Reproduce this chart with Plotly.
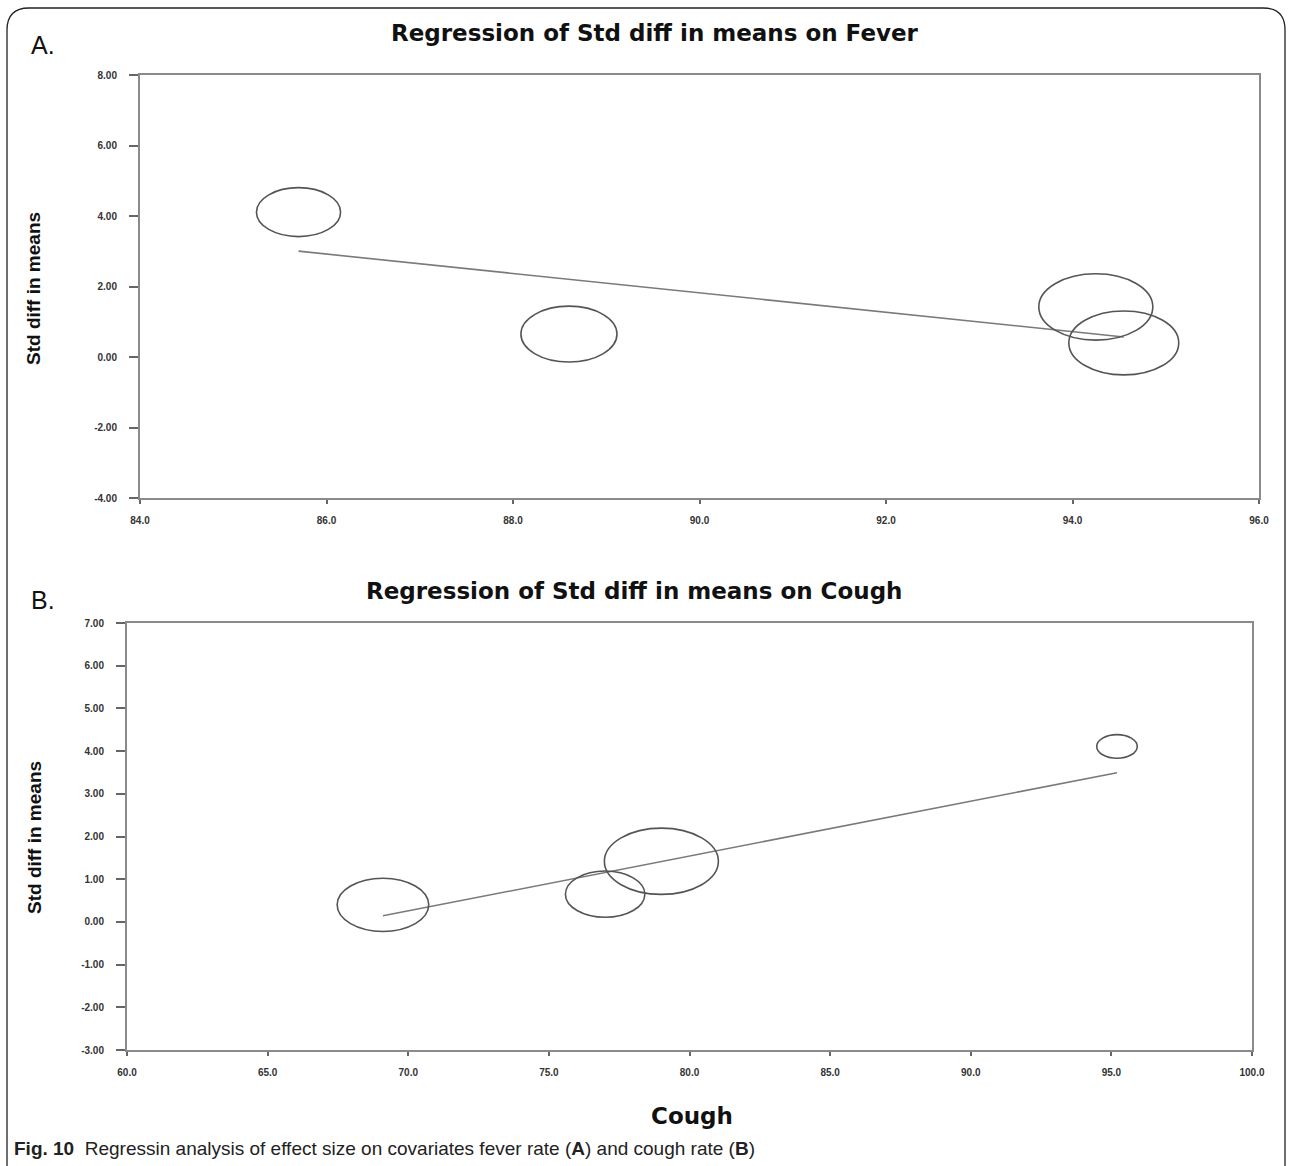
import numpy as np
import plotly.graph_objects as go

# ---------------- data ----------------
effect = [4.11, 0.65, 1.42, 0.40]            # Std diff in means per study
fever = [85.7, 88.6, 94.25, 94.55]           # fever rate (%)
cough = [95.2, 77.0, 79.0, 69.1]             # cough rate (%)
weight_fever = [17.1, 22.3, 31.4, 29.2]      # relative weight (%) in fever model
weight_cough = [5.6, 21.5, 44.3, 28.6]       # relative weight (%) in cough model
fit_fever = {"intercept": 26.57, "slope": -0.275}
fit_cough = {"intercept": -8.73, "slope": 0.1284}

xticks_fever = [84.0, 86.0, 88.0, 90.0, 92.0, 94.0, 96.0]
yticks_fever = [-4.0, -2.0, 0.0, 2.0, 4.0, 6.0, 8.0]
xticks_cough = [60.0, 65.0, 70.0, 75.0, 80.0, 85.0, 90.0, 95.0, 100.0]
yticks_cough = [-3.0, -2.0, -1.0, 0.0, 1.0, 2.0, 3.0, 4.0, 5.0, 6.0, 7.0]

# ---------------- layout geometry ----------------
W, H = 1292, 1166
A_x = (140 / W, 1259 / W)
A_y = (1 - 498 / H, 1 - 75 / H)
B_x = (127 / W, 1252 / W)
B_y = (1 - 1050 / H, 1 - 623 / H)

TICKFONT = dict(family="Liberation Sans, Arial", size=10, color="#333", weight="bold")
AXCOL = "#8a8a8a"
BUBBLE_MAX_PX = 57
ASPECT = 1.72  # horizontal/vertical radius ratio of bubbles in pixels

fig = go.Figure()


def add_panel(xs, ys, weights, fit, xref, yref, xrange, yrange, xdom, ydom):
    # regression line
    xl = np.array([min(xs), max(xs)])
    fig.add_trace(go.Scatter(
        x=xl, y=fit["intercept"] + fit["slope"] * xl, mode="lines",
        line=dict(color="#7a7a7a", width=1.6), xaxis=xref, yaxis=yref,
        showlegend=False, hoverinfo="skip"))
    # invisible points for hover
    fig.add_trace(go.Scatter(x=xs, y=ys, mode="markers", marker=dict(size=1, opacity=0),
                             xaxis=xref, yaxis=yref, showlegend=False))
    # bubbles (ellipses in data coords)
    px_x = (xdom[1] - xdom[0]) * W / (xrange[1] - xrange[0])
    px_y = (ydom[1] - ydom[0]) * H / (yrange[1] - yrange[0])
    wmax = max(weights)
    for x, y, w in zip(xs, ys, weights):
        rx_px = BUBBLE_MAX_PX * np.sqrt(w / wmax)
        ry_px = rx_px / ASPECT
        rx, ry = rx_px / px_x, ry_px / px_y
        fig.add_shape(type="circle", xref=xref, yref=yref,
                      x0=x - rx, x1=x + rx, y0=y - ry, y1=y + ry,
                      line=dict(color="#555", width=1.6), fillcolor="rgba(0,0,0,0)")


add_panel(fever, effect, weight_fever, fit_fever, "x", "y", (84, 96), (-4, 8), A_x, A_y)
add_panel(cough, effect, weight_cough, fit_cough, "x2", "y2", (60, 100), (-3, 7), B_x, B_y)


def xaxis(rng, ticks, dom, anchor):
    return dict(range=rng, domain=dom, anchor=anchor, tickvals=ticks,
                ticktext=[f"{t:.1f}" for t in ticks], showgrid=False, zeroline=False,
                showline=True, linecolor=AXCOL, linewidth=2, mirror=True,
                ticks="outside", ticklen=4, tickcolor="#666", tickwidth=1.5,
                ticklabelstandoff=8, tickfont=TICKFONT, fixedrange=True, automargin=False)


def yaxis(rng, ticks, dom, anchor):
    return dict(range=rng, domain=dom, anchor=anchor, tickvals=ticks,
                ticktext=[f"{t:.2f}" for t in ticks], showgrid=False, zeroline=False,
                showline=True, linecolor=AXCOL, linewidth=2, mirror=True,
                ticks="outside", ticklen=9, tickcolor="#666", tickwidth=1.5,
                ticklabelstandoff=10, tickfont=TICKFONT, fixedrange=True, automargin=False)


fig.update_layout(
    template="none",
    width=W, height=H, margin=dict(l=0, r=0, t=0, b=0, pad=0, autoexpand=False),
    paper_bgcolor="white", plot_bgcolor="white", showlegend=False,
    xaxis=xaxis([84, 96], xticks_fever, A_x, "y"),
    yaxis=yaxis([-4, 8], yticks_fever, A_y, "x"),
    xaxis2=xaxis([60, 100], xticks_cough, B_x, "y2"),
    yaxis2=yaxis([-3, 7], yticks_cough, B_y, "x2"),
)

TITLEFONT = dict(family="DejaVu Sans", size=23, color="#111", weight="bold")
YLABFONT = dict(family="Liberation Sans", size=19, color="#111", weight="bold")


def ann(text, xpx, ypx, font, xanchor="center", **kw):
    fig.add_annotation(text=text, x=xpx / W, y=1 - ypx / H, xref="paper", yref="paper",
                       xanchor=xanchor, yanchor="middle",
                       showarrow=False, font=font, **kw)


ann("Regression of Std diff in means on Fever", 655, 33, TITLEFONT)
ann("Regression of Std diff in means on Cough", 634, 591, TITLEFONT)
ann("A.", 43, 45, dict(family="Liberation Sans", size=25, color="#111"))
ann("B.", 43, 600, dict(family="Liberation Sans", size=25, color="#111"))
ann("Std diff in means", 34, 289, YLABFONT, textangle=-90)
ann("Std diff in means", 34, 838, YLABFONT, textangle=-90)
ann("Cough", 692, 1116, dict(family="DejaVu Sans", size=23, color="#111", weight="bold"))
ann("<b>Fig. 10</b>  Regressin analysis of effect size on covariates fever rate (<b>A</b>) and cough rate (<b>B</b>)",
    12, 1148, dict(family="Liberation Sans", size=19, color="#222"), xanchor="left")

# figure frame with rounded top corners
def px(x, y):
    return f"{x / W:.5f},{1 - y / H:.5f}"

frame = (f"M {px(7, 1166)} L {px(7, 30)} Q {px(7, 8)} {px(29, 8)} "
         f"L {px(1263, 8)} Q {px(1285, 8)} {px(1285, 30)} L {px(1285, 1166)}")
fig.add_shape(type="path", path=frame, xref="paper", yref="paper",
              line=dict(color="#222", width=1.3))

fig.write_html("out.html", config={"displayModeBar": False},
               post_script="document.body.style.margin='0';document.body.style.overflow='hidden';")
